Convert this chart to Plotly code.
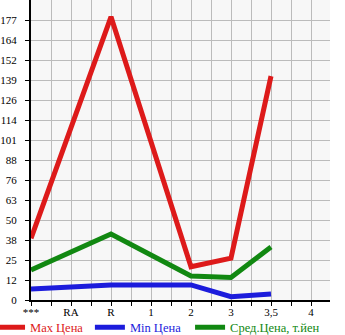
import plotly.graph_objects as go

categories = ["***", "RA", "R", "1", "2", "3", "3,5", "4"]
point_idx = [0, 2, 4, 5, 6]
max_price = [39, 179, 21, 26.5, 141.5]
min_price = [7, 9.5, 9.5, 2.1, 3.8]
avg_price = [19, 41.7, 15.2, 14.3, 33.5]
ytick_labels = ["0", "12", "25", "38", "50", "63", "76", "88", "101", "114", "126", "139", "152", "164", "177"]

step = 177 / 14
ytickvals = [i * step for i in range(15)]
xtickvals = [i * 0.5 for i in range(15)]
xticktext = [categories[int(v)] if v == int(v) else "" for v in xtickvals]

series = [("Max Цена", max_price, "#dd1a1a", "legend"),
          ("Min Цена", min_price, "#1c1cdc", "legend2"),
          ("Сред.Цена, т.йен", avg_price, "#118811", "legend3")]

fig = go.Figure()
for name, vals, col, lg in series:
    fig.add_trace(go.Scatter(x=point_idx, y=vals, mode="lines", legend=lg,
                             name=f'<span style="color:{col}">{name}</span>',
                             line=dict(color=col, width=5)))

def legend_box(xpos):
    return dict(orientation="h", xref="paper", x=xpos, xanchor="left",
                yref="container", y=0.022, yanchor="middle",
                font=dict(size=12.5), itemwidth=30, borderwidth=0,
                bgcolor="rgba(0,0,0,0)")

fig.update_layout(
    width=345, height=335,
    margin=dict(l=31, r=15, t=0, b=35, autoexpand=False),
    paper_bgcolor="white", plot_bgcolor="#f7f7f7",
    font=dict(family="Liberation Serif, Times New Roman, serif", size=11, color="black"),
    showlegend=True,
    legend=legend_box(-0.137),
    legend2=legend_box(0.197),
    legend3=legend_box(0.532),
)
fig.update_xaxes(range=[0, 7.475], tickvals=xtickvals, ticktext=xticktext,
                 showgrid=True, gridcolor="#bbbbbb", gridwidth=1,
                 showline=True, linecolor="black", linewidth=2,
                 ticks="outside", ticklen=4, tickcolor="black", zeroline=False,
                 ticklabelstandoff=-3,
                 fixedrange=True, automargin=False)
fig.update_yaxes(range=[0, 177 * 300 / 280], tickvals=ytickvals, ticktext=ytick_labels,
                 showgrid=True, gridcolor="#bbbbbb", gridwidth=1,
                 showline=True, linecolor="black", linewidth=2,
                 ticks="outside", ticklen=4, tickcolor="black", zeroline=False,
                 ticklabelstandoff=6,
                 fixedrange=True, automargin=False)

fig.write_html("out.html")
